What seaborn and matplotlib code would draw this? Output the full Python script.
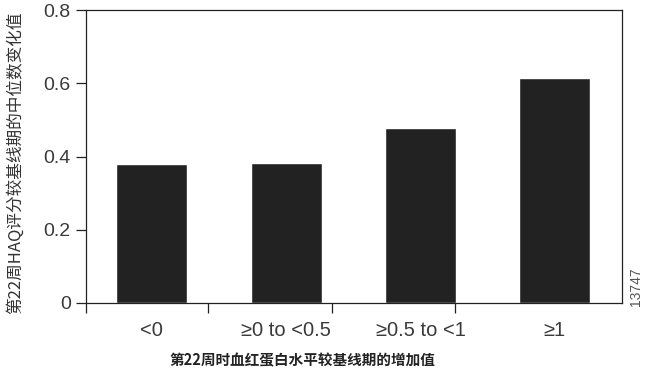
import pandas as pd
import seaborn as sns
import matplotlib.pyplot as plt

# Data
categories = ['<0', '≥0 to <0.5', '≥0.5 to <1', '≥1']
median_change = [0.38, 0.382, 0.478, 0.614]
y_ticks = [0, 0.2, 0.4, 0.6, 0.8]
y_tick_labels = ['0', '0.2', '0.4', '0.6', '0.8']

df = pd.DataFrame({'group': categories, 'value': median_change})

sns.set_style('ticks')
plt.rcParams['font.family'] = ['Liberation Sans', 'Noto Sans CJK SC', 'DejaVu Sans']
plt.rcParams['axes.linewidth'] = 0.9

fig = plt.figure(figsize=(6.47, 3.72), dpi=100)
ax = fig.add_axes([0.133, 0.1855, 0.8284, 0.7876])

sns.barplot(data=df, x='group', y='value', color='#222222', width=0.53,
            saturation=1, ax=ax)

ax.set_ylim(0, 0.8)
ax.set_xlim(-0.49, 3.5)
ax.set_yticks(y_ticks)
ax.set_yticklabels(y_tick_labels)
for s in ax.spines.values():
    s.set_visible(True)
    s.set_color('#222222')

# labels under the bars, with the offset tick marks below the axis
ax.tick_params(axis='x', which='major', length=0, pad=13, labelsize=14.5,
               labelcolor='#3a3a3a')
ax.set_xticks([-0.49, 0.42, 1.34, 2.26], minor=True)
ax.tick_params(axis='x', which='minor', length=7, width=0.9, color='#222222')
ax.tick_params(axis='y', length=7, width=0.9, pad=4, labelsize=14,
               labelcolor='#3a3a3a', color='#222222')

ax.set_xlabel('')
ax.set_ylabel('第22周HAQ评分较基线期的中位数变化值', fontsize=12,
              family=['Noto Sans CJK SC', 'DejaVu Sans'], color='#333333',
              labelpad=10)
ax.yaxis.set_label_coords(-0.115, 0.48)

fig.text(0.468, 0.032, '第22周时血红蛋白水平较基线期的增加值', ha='center',
         va='center', fontsize=10.5, fontweight='bold',
         family=['Noto Sans CJK SC', 'DejaVu Sans'], color='#222222')
fig.text(0.983, 0.178, '13747', rotation=90, ha='center', va='bottom',
         fontsize=10, color='#555555')

fig.savefig('out.png', dpi=100)
